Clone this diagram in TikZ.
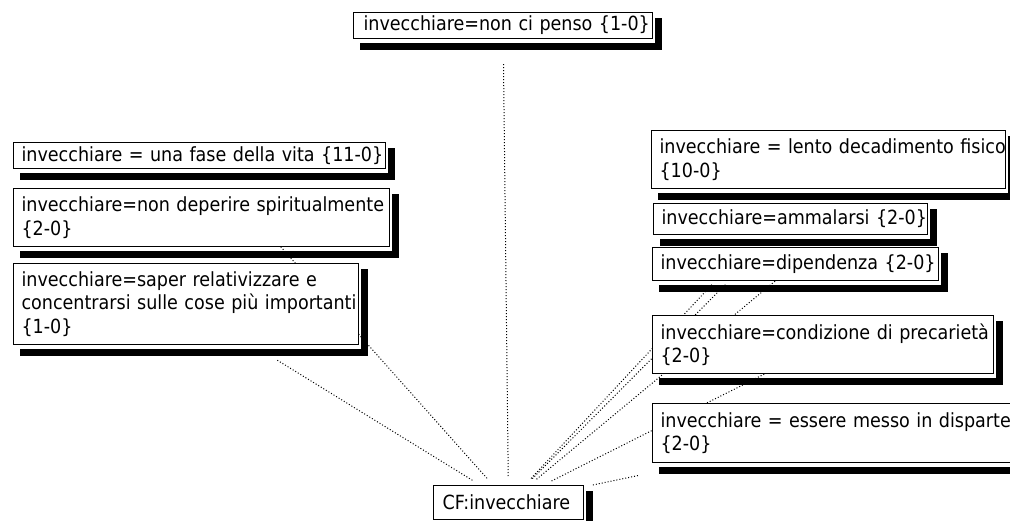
\documentclass[tikz,border=0pt]{standalone}
\usepackage{fontspec}
\setmainfont{DejaVu Sans Condensed}
\pgfdeclarelayer{links}
\pgfdeclarelayer{shade}
\pgfsetlayers{links,shade,main}

% left indent of each text line inside a card
\newcommand\padL{\hspace*{8pt}}
% a card: name, top-left corner, bottom-right corner, text; drop shadow on its right and bottom
\newcommand\cardbox[7][]{%
  \coordinate (#2-tl) at (#3,#4);
  \coordinate (#2-br) at (#5,#6);
  \pgfmathsetmacro\cardw{#5-#3}%
  \pgfmathsetmacro\cardh{#6-#4}%
  \node[card, text width=\cardw pt, minimum height=\cardh pt, #1] (#2) at (#2-tl) {#7};
  \begin{pgfonlayer}{shade}
    \fill[black] ([shift={(3,6)}]#2-br |- #2-tl) rectangle ([shift={(10,12)}]#2-br);
    \fill[black] ([shift={(7,5)}]#2-tl |- #2-br) rectangle ([shift={(10,12)}]#2-br);
  \end{pgfonlayer}}

\tikzset{
  card/.style={draw=black, fill=white, line width=1.1pt, inner xsep=0pt, inner ysep=0pt,
    anchor=north west, align=left, font=\fontsize{19.5pt}{23.5pt}\selectfont},
  link/.style={black, line width=1pt, dash pattern=on 1pt off 2pt, shorten <=9pt}
}

\begin{document}
\begin{tikzpicture}[x=1pt, y=-1pt]
\useasboundingbox (0,0) rectangle (1010,521);

% central concept
\cardbox{cf}{433}{485}{583}{519}{\mbox{\hspace*{9pt}CF:invecchiare}}

% left column
\cardbox{penso}{353}{12}{652}{38}{\mbox{\hspace*{10pt}invecchiare=non ci penso \{1-0\}}}
\cardbox{fase}{13}{142}{385}{168}{\mbox{\padL invecchiare = una fase della vita \{11-0\}}}
\cardbox{deperire}{13}{188}{389}{246}{\mbox{\padL invecchiare=non deperire spiritualmente}\\\mbox{\padL\{2-0\}}}
\cardbox{saper}{13}{263}{358}{344}{\mbox{\padL invecchiare=saper relativizzare e}\\\mbox{\padL concentrarsi sulle cose più importanti}\\\mbox{\padL\{1-0\}}}

% right column
\cardbox{lento}{651}{130}{1005}{188}{\mbox{\padL invecchiare = lento decadimento fisico}\\\mbox{\padL\{10-0\}}}
\cardbox{ammalarsi}{653}{203}{927}{234}{\mbox{\padL invecchiare=ammalarsi \{2-0\}}}
\cardbox{dipendenza}{652}{247}{938}{280}{\mbox{\padL invecchiare=dipendenza \{2-0\}}}
\cardbox{condizione}{652}{315}{993}{373}{\mbox{\padL invecchiare=condizione di precarietà}\\\mbox{\padL\{2-0\}}}
\cardbox{essere}{652}{403}{1030}{462}{\mbox{\padL invecchiare = essere messo in disparte}\\\mbox{\padL\{2-0\}}}

% dotted links, drawn beneath the cards
\begin{pgfonlayer}{links}
  \draw[link, shorten >=24pt] (cf) -- (penso);
  \draw[link, shorten >=30pt] (cf) -- (fase);
  \draw[link, shorten >=28pt] (cf) -- (saper);
  \draw[link, shorten >=130pt] (cf) -- (lento);
  \draw[link, shorten >=70pt] (cf) -- (ammalarsi);
  \draw[link] (cf) -- (dipendenza);
  \draw[link] (cf) -- (condizione);
  \draw[link, shorten >=60pt] (cf) -- (essere);
\end{pgfonlayer}
\end{tikzpicture}
\end{document}
